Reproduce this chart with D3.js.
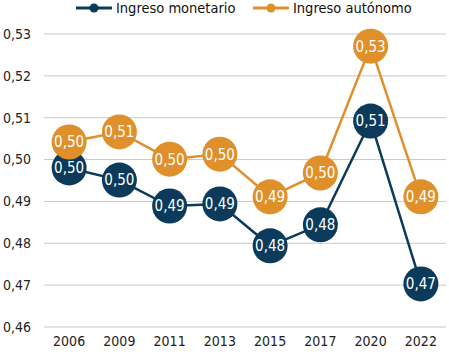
<!DOCTYPE html>
<html>
<head>
<meta charset="utf-8">
<script src="https://cdn.jsdelivr.net/npm/d3@7"></script>
<style>
  body { margin: 0; background: #fff; }
  svg text { font-family: "Liberation Sans Narrow", "DejaVu Sans Condensed", sans-serif; }
</style>
</head>
<body>
<div id="chart"></div>
<script>
// chart data
const years = ["2006", "2009", "2011", "2013", "2015", "2017", "2020", "2022"];
const monetario = [0.498, 0.4951, 0.4889, 0.4894, 0.4794, 0.4844, 0.5092, 0.4703];
const autonomo = [0.5042, 0.5066, 0.5001, 0.5013, 0.4911, 0.4968, 0.5271, 0.4911];
const yTicks = [0.46, 0.47, 0.48, 0.49, 0.50, 0.51, 0.52, 0.53];
const seriesNames = ["Ingreso monetario", "Ingreso autónomo"];
const colors = ["#0b3a5a", "#e0902b"];

const width = 449, height = 354;
const margin = { top: 34, right: 3, bottom: 27, left: 44 };

const svg = d3.select("#chart").append("svg")
    .attr("width", width)
    .attr("height", height);

const x = d3.scalePoint()
    .domain(years)
    .range([margin.left, width - margin.right])
    .padding(0.5);

const y = d3.scaleLinear()
    .domain([0.46, 0.53])
    .range([height - margin.bottom, margin.top]);

const fmt = d => d3.format(".2f")(d).replace(".", ",");

// gridlines
svg.append("g")
    .selectAll("line")
    .data(yTicks)
    .enter().append("line")
    .attr("x1", margin.left)
    .attr("x2", width - margin.right)
    .attr("y1", d => y(d))
    .attr("y2", d => y(d))
    .attr("stroke", "#c8c8c8")
    .attr("stroke-width", 1);

// y axis labels
svg.append("g")
    .selectAll("text")
    .data(yTicks)
    .enter().append("text")
    .attr("x", 3)
    .attr("y", d => y(d))
    .attr("dy", "0.35em")
    .style("font-size", "14px")
    .attr("fill", "#222")
    .text(d => fmt(d));

// x axis labels
svg.append("g")
    .selectAll("text")
    .data(years)
    .enter().append("text")
    .attr("x", d => x(d))
    .attr("y", height - 8)
    .attr("text-anchor", "middle")
    .style("font-size", "14px")
    .attr("fill", "#222")
    .text(d => d);

const series = [monetario, autonomo];

const line = d3.line()
    .x((d, i) => x(years[i]))
    .y(d => y(d));

// draw monetario first, autonomo over it
series.forEach((vals, s) => {
    let g = svg.append("g").attr("class", "series-" + s);

    g.append("path")
        .datum(vals)
        .attr("d", line)
        .attr("fill", "none")
        .attr("stroke", colors[s])
        .attr("stroke-width", 2.5);

    g.selectAll("circle")
        .data(vals)
        .enter().append("circle")
        .attr("cx", (d, i) => x(years[i]))
        .attr("cy", d => y(d))
        .attr("r", 17.5)
        .attr("fill", colors[s]);

    g.selectAll("text")
        .data(vals)
        .enter().append("text")
        .attr("x", (d, i) => x(years[i]))
        .attr("y", d => y(d))
        .attr("dy", "0.36em")
        .attr("text-anchor", "middle")
        .attr("fill", "#fff")
        .style("font-size", "15px")
        .text(d => fmt(d));
});

// legend
const legendX = [76, 253];
const legend = svg.append("g");
seriesNames.forEach((name, s) => {
    let lg = legend.append("g").attr("transform", "translate(" + legendX[s] + ",8)");
    lg.append("line")
        .attr("x1", 0).attr("x2", 36)
        .attr("y1", 0).attr("y2", 0)
        .attr("stroke", colors[s])
        .attr("stroke-width", 3);
    lg.append("circle")
        .attr("cx", 18).attr("cy", 0)
        .attr("r", 4.5)
        .attr("fill", colors[s]);
    lg.append("text")
        .attr("x", 40)
        .attr("y", 0)
        .attr("dy", "0.35em")
        .style("font-size", "14.5px")
        .attr("fill", "#111")
        .text(name);
});
</script>
</body>
</html>
